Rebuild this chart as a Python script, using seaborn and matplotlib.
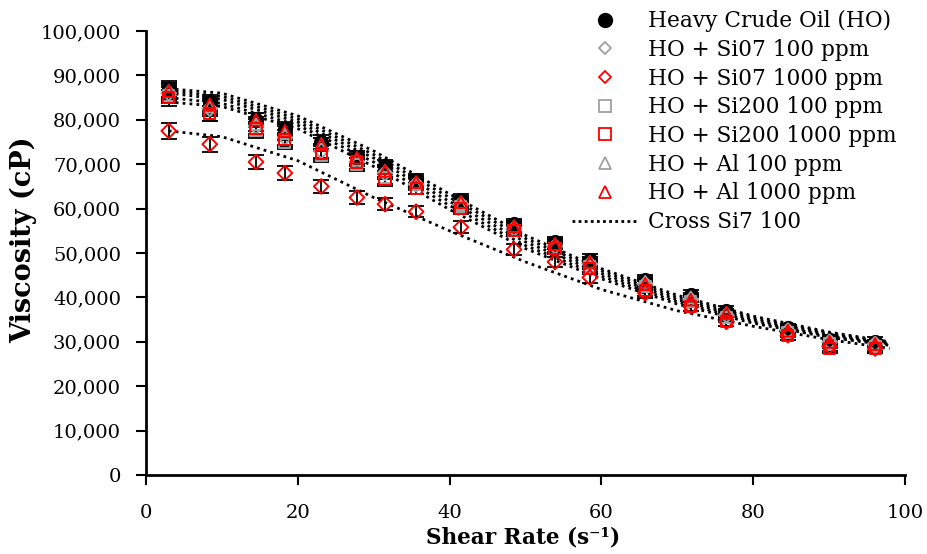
import numpy as np
import pandas as pd
import matplotlib
matplotlib.use("Agg")
import matplotlib.pyplot as plt
import seaborn as sns
from matplotlib.lines import Line2D
from matplotlib.ticker import FuncFormatter

# ---------------- data ----------------
shear_rate = [3.0, 8.4, 14.5, 18.3, 23.1, 27.8, 31.5, 35.6, 41.5, 48.5,
              53.9, 58.5, 65.8, 71.8, 76.5, 84.6, 90.1, 96.1]

ho          = [87000, 84000, 80000, 78000, 75000, 71500, 69500, 66500, 62000, 56500,
               52500, 48500, 44000, 40500, 37000, 33000, 30500, 30000]
si07_100    = [86000, 82500, 78500, 76000, 73000, 70500, 68000, 65500, 61000, 55500,
               51500, 47500, 43000, 39500, 36000, 32500, 30000, 29500]
si07_1000   = [77500, 74500, 70500, 68000, 65000, 62500, 61000, 59300, 55800, 50800,
               48000, 44500, 41000, 38000, 34500, 31500, 29000, 28500]
si200_100   = [85500, 81500, 77500, 75000, 72000, 70000, 67000, 64500, 60500, 55000,
               51000, 47000, 42500, 39000, 35500, 32000, 29500, 29000]
si200_1000  = [85000, 81500, 78000, 75500, 72500, 70500, 66500, 64500, 60000, 55000,
               51000, 46500, 41500, 38000, 34500, 31500, 28500, 28500]
al_100      = [86500, 83000, 79000, 77000, 74500, 71000, 68500, 65500, 61000, 56000,
               52000, 48000, 43500, 40000, 36500, 32500, 30000, 29500]
al_1000     = [86500, 83500, 80000, 77500, 74500, 71500, 68500, 66000, 61500, 56000,
               52000, 48000, 43000, 39500, 36500, 32500, 30000, 29500]

# error bar half-widths (cP)
err_hw = [1800, 1700, 1600, 1600, 1500, 1500, 1400, 1300, 1300, 1200,
          1200, 1200, 1100, 1100, 1000, 1000, 1000, 1000]

# Cross model fit curves
fit_x = [3, 10, 20, 30, 40, 50, 60, 70, 80, 90, 98]
fit_c1 = [87000, 86000, 80900, 73000, 63300, 54000, 46500, 40500, 35800, 32200, 30000]
fit_c2 = [86500, 85300, 80200, 72200, 62500, 53300, 46000, 40000, 35400, 31900, 29800]
fit_c3 = [86000, 84600, 79500, 71400, 61600, 52500, 45400, 39500, 35000, 31600, 29600]
fit_c4 = [85000, 83700, 78800, 70500, 60700, 51700, 44800, 39000, 34600, 31300, 29400]
fit_c5 = [84000, 83000, 78000, 69500, 59800, 51000, 44200, 38500, 34200, 31000, 29200]
fit_low = [77500, 76200, 70800, 62500, 55000, 48000, 41800, 37000, 33500, 30500, 28500]

series_labels = ["Heavy Crude Oil (HO)", "HO + Si07 100 ppm", "HO + Si07 1000 ppm",
                 "HO + Si200 100 ppm", "HO + Si200 1000 ppm", "HO + Al 100 ppm",
                 "HO + Al 1000 ppm"]
fit_label = "Cross Si7 100"
x_label = "Shear Rate (s\u207b\u00b9)"
y_label = "Viscosity (cP)"
x_ticks = [0, 20, 40, 60, 80, 100]
y_ticks = [0, 10000, 20000, 30000, 40000, 50000, 60000, 70000, 80000, 90000, 100000]

# ---------------- style ----------------
sns.set_theme(style="white")
plt.rcParams["font.family"] = ["DejaVu Serif"]
plt.rcParams["text.color"] = "black"
plt.rcParams["axes.labelcolor"] = "black"

fig = plt.figure(figsize=(9.27, 5.54), dpi=100)
ax = fig.add_axes([0.1575, 0.1426, 0.8185, 0.8014])

GRAY = "#a0a0a0"
RED = "#ff0000"

series = [
    (ho, "o", "black", "black", 9.5),
    (si07_100, "D", "none", GRAY, 7.5),
    (si200_100, "s", "none", GRAY, 8),
    (al_100, "^", "none", GRAY, 8.5),
    (si07_1000, "D", "none", RED, 7.5),
    (si200_1000, "s", "none", RED, 8),
    (al_1000, "^", "none", RED, 8.5),
]

# error bars
for vals, *_ in series:
    ax.errorbar(shear_rate, vals, yerr=err_hw, fmt="none", ecolor="black",
                elinewidth=1.3, capsize=6, capthick=1.3, zorder=2)

# fit curves
fits = pd.DataFrame({"x": fit_x * 6,
                     "y": fit_c1 + fit_c2 + fit_c3 + fit_c4 + fit_c5 + fit_low,
                     "curve": sum([[i] * len(fit_x) for i in range(6)], [])})
for i in range(6):
    d = fits[fits.curve == i]
    sns.lineplot(data=d, x="x", y="y", ax=ax, color="black", linestyle=(0, (1, 1.5)),
                 linewidth=2.0, zorder=3, legend=False, estimator=None, sort=True)

# markers
for vals, mk, fc, ec, ms in series:
    df = pd.DataFrame({"x": shear_rate, "y": vals})
    sns.scatterplot(data=df, x="x", y="y", ax=ax, marker=mk, s=ms ** 2,
                    facecolor=fc, edgecolor=ec, linewidth=1.4, zorder=4, legend=False)

ax.set_xlim(0, 100)
ax.set_ylim(0, 100000)
ax.set_xticks(x_ticks)
ax.set_yticks(y_ticks)
ax.yaxis.set_major_formatter(FuncFormatter(lambda v, p: f"{int(v):,}"))
ax.tick_params(axis="both", which="major", labelsize=14, colors="black",
               direction="out", length=7, width=1.5, left=True, bottom=True)
ax.tick_params(axis="x", pad=14)
ax.tick_params(axis="y", pad=11)
for side in ["top", "right"]:
    ax.spines[side].set_visible(False)
for side in ["left", "bottom"]:
    ax.spines[side].set_color("black")
    ax.spines[side].set_linewidth(2)

ax.set_xlabel(x_label, fontsize=15.5, fontweight="bold", color="black")
ax.set_ylabel(y_label, fontsize=19.5, fontweight="bold", color="black")
ax.yaxis.set_label_coords(-0.1436, 0.53)
ax.xaxis.set_label_coords(0.497, -0.115)

# legend
handles = [
    Line2D([], [], marker="o", color="none", markerfacecolor="black", markeredgecolor="black", markersize=10),
    Line2D([], [], marker="D", color="none", markerfacecolor="none", markeredgecolor=GRAY, markersize=6, markeredgewidth=1.3),
    Line2D([], [], marker="D", color="none", markerfacecolor="none", markeredgecolor=RED, markersize=6, markeredgewidth=1.3),
    Line2D([], [], marker="s", color="none", markerfacecolor="none", markeredgecolor=GRAY, markersize=8, markeredgewidth=1.3),
    Line2D([], [], marker="s", color="none", markerfacecolor="none", markeredgecolor=RED, markersize=8, markeredgewidth=1.3),
    Line2D([], [], marker="^", color="none", markerfacecolor="none", markeredgecolor=GRAY, markersize=8, markeredgewidth=1.3),
    Line2D([], [], marker="^", color="none", markerfacecolor="none", markeredgecolor=RED, markersize=8, markeredgewidth=1.3),
    Line2D([], [], color="black", linestyle=(0, (1, 1.2)), linewidth=2),
]
labels = series_labels + [fit_label]
leg = fig.legend(handles, labels, loc="upper left", bbox_to_anchor=(572 / 927, 1 - 10 / 554),
                 frameon=False, fontsize=15.6, labelspacing=0.31, handlelength=3.05,
                 handletextpad=0.45, borderpad=0, borderaxespad=0)
for t in leg.get_texts():
    t.set_color("black")

fig.savefig("out.png", dpi=100)
